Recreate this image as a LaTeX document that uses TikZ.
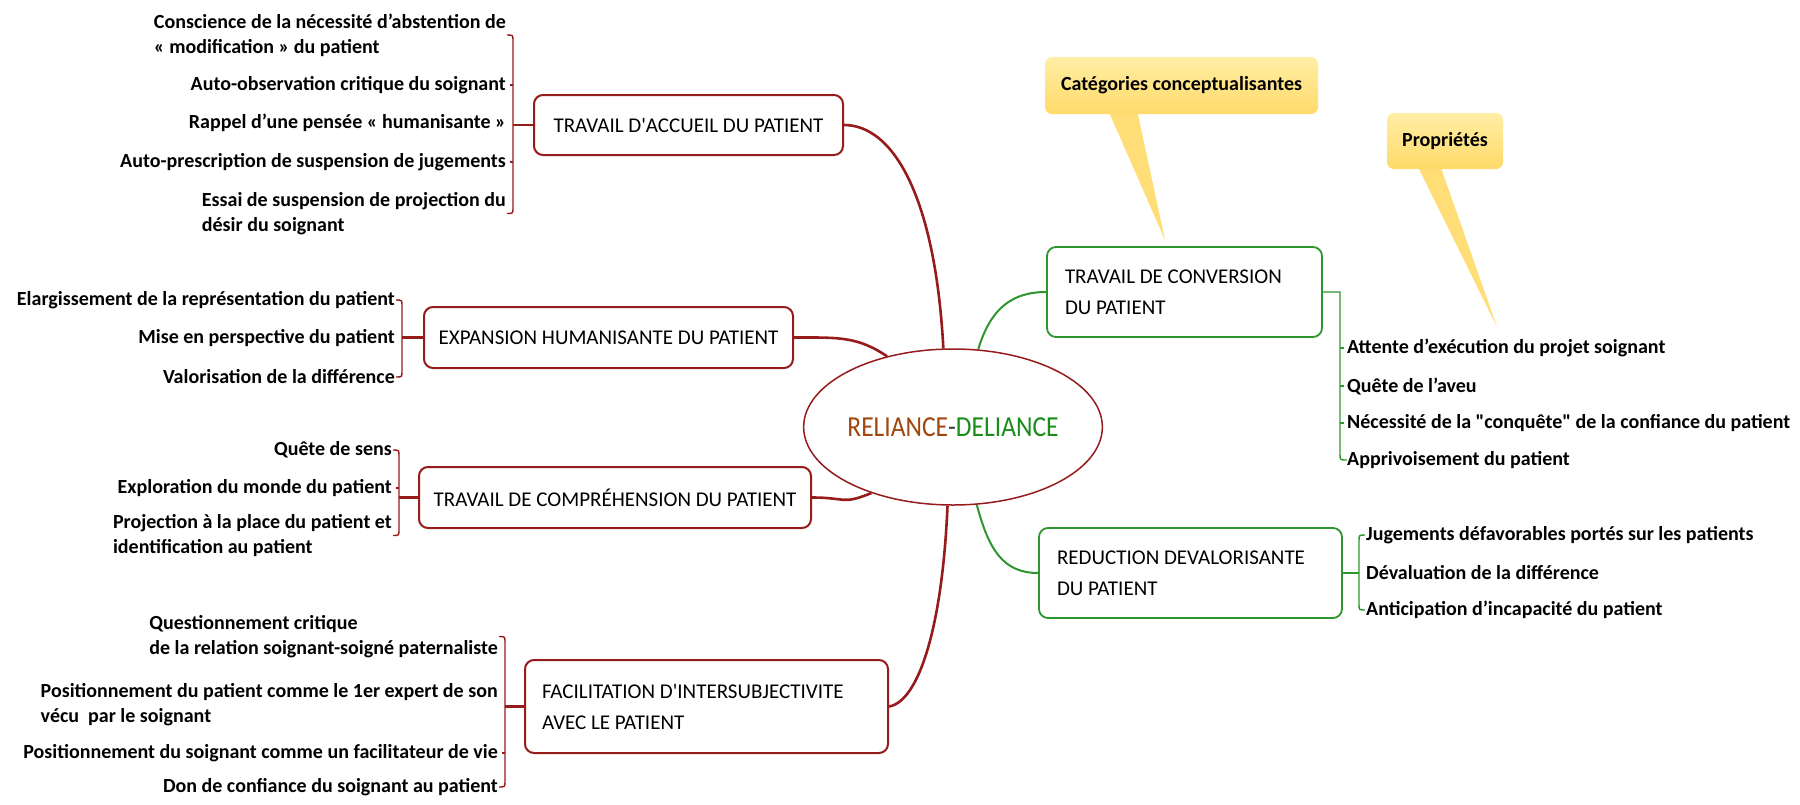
\documentclass[tikz,border=0pt]{standalone}
\usepackage{fontspec}
\setmainfont{Carlito}[Ligatures=TeXOff]
\newfontfamily\centerfont[FakeStretch=0.88]{Carlito}
\usetikzlibrary{shapes.geometric,calc}
\definecolor{dred}{RGB}{150,28,28}
\definecolor{gline}{RGB}{45,150,45}
\definecolor{relbrown}{RGB}{160,70,15}
\definecolor{delgreen}{RGB}{25,140,25}
\definecolor{yelTop}{RGB}{255,238,165}
\definecolor{yelBot}{RGB}{255,218,105}
\definecolor{tailY}{RGB}{255,222,120}
\pgfdeclarelayer{bg}
\pgfsetlayers{bg,main}
\newcommand\leftbrk[4]{\draw[#4] (#1-6,#2) .. controls (#1,#2) .. (#1,#2+6) -- (#1,#3-6) .. controls (#1,#3) .. (#1-6,#3);}
\newcommand\rightbrk[4]{\draw[#4] (#1+6,#2) .. controls (#1,#2) .. (#1,#2+6) -- (#1,#3-6) .. controls (#1,#3) .. (#1+6,#3);}
\begin{document}
\begin{tikzpicture}[x=1pt,y=-1pt,
 leaf/.style={font=\fontsize{20}{25}\selectfont\bfseries, inner sep=0pt, align=left},
 redbox/.style={draw=dred, line width=2pt, rounded corners=9pt, fill=white, font=\fontsize{21}{31}\selectfont, inner sep=0pt, execute at begin node={\spaceskip=0pt\xspaceskip=0pt\relax}},
 greenbox/.style={draw=gline, line width=1.8pt, rounded corners=9pt, fill=white, font=\fontsize{21}{31}\selectfont, inner sep=0pt, execute at begin node={\spaceskip=0pt\xspaceskip=0pt\relax}},
 redconn/.style={draw=dred, line width=2.6pt},
 greenconn/.style={draw=gline, line width=2pt},
 redbrk/.style={draw=dred, line width=1.4pt},
 greenbrk/.style={draw=gline, line width=1.4pt},
 callout/.style={rounded corners=7pt, top color=yelTop, bottom color=yelBot, font=\fontsize{20}{24}\selectfont\bfseries, inner sep=0pt}
]
\useasboundingbox (0,0) rectangle (1800,804);

% central node
\node[ellipse, draw=dred, line width=1.5pt, fill=white, minimum width=252pt, minimum height=156pt, inner sep=0pt] (c) at (953,427)
 {\centerfont\fontsize{29}{30}\selectfont\textcolor{relbrown}{RELIANCE}\textcolor{darkgray}{-}\textcolor{delgreen}{DELIANCE}};

% category boxes
\node[redbox, minimum width=309pt, minimum height=60pt] (b1) at (688.5,125) {TRAVAIL D'ACCUEIL DU PATIENT};
\node[redbox, minimum width=369pt, minimum height=61pt] (b2) at (608.5,337.5) {EXPANSION HUMANISANTE DU PATIENT};
\node[redbox, minimum width=392pt, minimum height=61pt] (b3) at (615,497.5) {TRAVAIL DE COMPRÉHENSION DU PATIENT};
\node[redbox, minimum width=363pt, minimum height=93pt, text width=329pt, inner xsep=17pt, align=left] (b4) at (706.5,706.5) {FACILITATION D'INTERSUBJECTIVITE\\AVEC LE PATIENT};
\node[greenbox, minimum width=275pt, minimum height=90pt, text width=239pt, inner xsep=18pt, align=left] (g1) at (1184.5,292) {TRAVAIL DE CONVERSION\\DU PATIENT};
\node[greenbox, minimum width=303pt, minimum height=90pt, text width=267pt, inner xsep=18pt, align=left] (g2) at (1190.5,573) {REDUCTION DEVALORISANTE\\DU PATIENT};

% connectors to centre
\begin{pgfonlayer}{bg}
\draw[redconn] (b1.east) .. controls +(50,0) and +(-8,-150) .. (c.97);
\draw[redconn] (b2.east) .. controls +(45,0) and +(-30,-20) .. (c.133);
\draw[redconn] (b3.east) .. controls +(35,0) and +(-30,12) .. (c.219);
\draw[redconn] (b4.east) .. controls +(30,-5) and +(-5,120) .. (c.266);
\draw[greenconn] (c.72) .. controls +(12,-40) and +(-35,0) .. (g1.west);
\draw[greenconn] (c.287) .. controls +(12,45) and +(-35,0) .. (g2.west);
\end{pgfonlayer}

% group 1 leaves
\node[leaf, anchor=east] (l11) at (506,35) {Conscience de la nécessité d’abstention de\\« modification » du patient};
\node[leaf, anchor=east] (l12) at (506,85) {Auto-observation critique du soignant};
\node[leaf, anchor=east] (l13) at (506,123) {Rappel d’une pensée « humanisante »};
\node[leaf, anchor=east] (l14) at (506,162) {Auto-prescription de suspension de jugements};
\node[leaf, anchor=east] (l15) at (506,213.5) {Essai de suspension de projection du\\désir du soignant};
\coordinate (k1) at (513,125);
\leftbrk{513}{35}{213.5}{redbrk}
\draw[redconn, line width=2.2pt] (b1.west) -- (k1);
\foreach \n in {l12,l14} \draw[redbrk] (\n.east) ++(7,0) -- ++(-3,0);

% group 2 leaves
\node[leaf, anchor=east] (l21) at (395,300) {Elargissement de la représentation du patient};
\node[leaf, anchor=east] (l22) at (395,338) {Mise en perspective du patient};
\node[leaf, anchor=east] (l23) at (395,377) {Valorisation de la différence};
\coordinate (k2) at (402,337.5);
\leftbrk{402}{300}{377}{redbrk}
\draw[redconn, line width=2.2pt] (b2.west) -- (k2);

% group 3 leaves
\node[leaf, anchor=east] (l31) at (392,450) {Quête de sens};
\node[leaf, anchor=east] (l32) at (392,488) {Exploration du monde du patient};
\node[leaf, anchor=east] (l33) at (392,535.5) {Projection à la place du patient et\\identification au patient};
\coordinate (k3) at (399,497.5);
\leftbrk{399}{450}{535.5}{redbrk}
\draw[redconn, line width=2.2pt] (b3.west) -- (k3);
\draw[redbrk] (l32.east) ++(7,0) -- ++(-3,0);

% group 4 leaves
\node[leaf, anchor=east] (l41) at (498,636.5) {Questionnement critique\\de la relation soignant-soigné paternaliste};
\node[leaf, anchor=east] (l42) at (498,704.5) {Positionnement du patient comme le 1er expert de son\\vécu~ par le soignant};
\node[leaf, anchor=east] (l43) at (498,753) {Positionnement du soignant comme un facilitateur de vie};
\node[leaf, anchor=east] (l44) at (498,787) {Don de confiance du soignant au patient};
\coordinate (k4) at (505,706.5);
\leftbrk{505}{636.5}{787}{redbrk}
\draw[redconn, line width=2.2pt] (b4.west) -- (k4);
\draw[redbrk] (l43.east) ++(7,0) -- ++(-3,0);

% group 5 leaves (green)
\node[leaf, anchor=west] (l51) at (1347,348) {Attente d’exécution du projet soignant};
\node[leaf, anchor=west] (l52) at (1347,386) {Quête de l’aveu};
\node[leaf, anchor=west] (l53) at (1347,423) {Nécessité de la "conquête" de la confiance du patient};
\node[leaf, anchor=west] (l54) at (1347,460) {Apprivoisement du patient};
\coordinate (k5) at (1340,292);
\draw[greenbrk] (g1.east) -- (k5) -- (1340,454) .. controls (1340,460) .. (l54.west);
\foreach \n in {l51,l52,l53} \draw[greenbrk] (\n.west) ++(-7,0) -- ++(4,0);

% group 6 leaves (green)
\node[leaf, anchor=west] (l61) at (1366,535) {Jugements défavorables portés sur les patients};
\node[leaf, anchor=west] (l62) at (1366,573) {Dévaluation de la différence};
\node[leaf, anchor=west] (l63) at (1366,610) {Anticipation d’incapacité du patient};
\coordinate (k6) at (1359,573);
\rightbrk{1359}{535}{610}{greenbrk}
\draw[greenconn] (g2.east) -- (k6);

% callouts
\fill[tailY] (1108,110) -- (1137,110) -- (1165,240) -- cycle;
\node[callout, minimum width=273pt, minimum height=57pt] (n1) at (1181.5,85.5) {Catégories conceptualisantes};
\fill[tailY] (1417,165) -- (1440,165) -- (1497,327) -- cycle;
\node[callout, minimum width=116pt, minimum height=56pt] (n2) at (1445,141) {Propriétés};
\end{tikzpicture}
\end{document}
